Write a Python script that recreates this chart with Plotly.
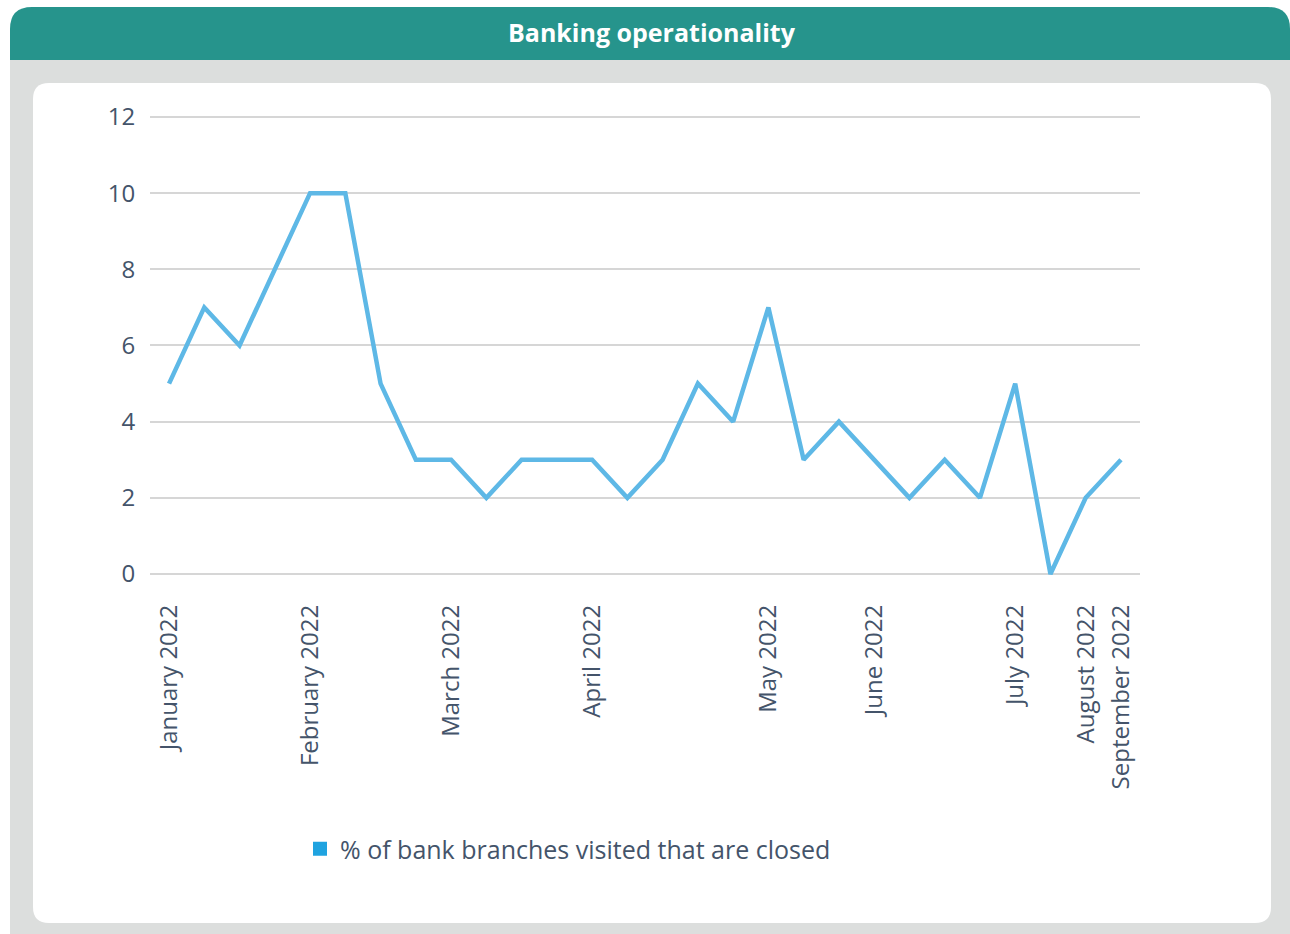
import plotly.graph_objects as go

# ---- data ----
rounds = list(range(28))
closed_pct = [5, 7, 6, 8, 10, 10, 5, 3, 3, 2, 3, 3, 3, 2, 3, 5, 4, 7, 3, 4, 3, 2, 3, 2, 5, 0, 2, 3]
label_rounds = [0, 4, 8, 12, 17, 20, 24, 26, 27]
label_text = ["January 2022", "February 2022", "March 2022", "April 2022", "May 2022",
              "June 2022", "July 2022", "August 2022", "September 2022"]
y_ticks = [0, 2, 4, 6, 8, 10, 12]
series_name = "% of bank branches visited that are closed"
title_text = "Banking operationality"

W, H = 1290, 934
FONT = "Open Sans"
TXT = "#44546a"

def px(x):
    return x / W

def py(y):
    return (H - y) / H

def rrect(x0, y0, x1, y1, r, top_only=False):
    rx, ry = r / W, r / H
    X0, X1 = px(x0), px(x1)
    Y0, Y1 = py(y0), py(y1)
    if top_only:
        return (f"M{X0},{Y1} L{X0},{Y0-ry} Q{X0},{Y0} {X0+rx},{Y0} "
                f"L{X1-rx},{Y0} Q{X1},{Y0} {X1},{Y0-ry} L{X1},{Y1} Z")
    return (f"M{X0+rx},{Y0} L{X1-rx},{Y0} Q{X1},{Y0} {X1},{Y0-ry} "
            f"L{X1},{Y1+ry} Q{X1},{Y1} {X1-rx},{Y1} L{X0+rx},{Y1} Q{X0},{Y1} {X0},{Y1+ry} "
            f"L{X0},{Y0-ry} Q{X0},{Y0} {X0+rx},{Y0} Z")

fig = go.Figure()
fig.add_trace(go.Scatter(
    x=rounds, y=closed_pct, mode="lines",
    line=dict(color="#5eb8e6", width=4.5), showlegend=False, hoverinfo="x+y"))
fig.add_trace(go.Scatter(
    x=[None], y=[None], mode="markers", name=series_name,
    marker=dict(symbol="square", size=14, color="#1fa3e0"), showlegend=True))

shapes = [
    dict(type="rect", xref="paper", yref="paper", x0=px(10), x1=px(1290), y0=py(934), y1=py(60),
         fillcolor="#dcdedd", line=dict(width=0), layer="below"),
    dict(type="path", xref="paper", yref="paper", path=rrect(10, 7, 1290, 60, 22, top_only=True),
         fillcolor="#26948c", line=dict(width=0), layer="below"),
    dict(type="path", xref="paper", yref="paper", path=rrect(33, 83, 1271, 923, 16),
         fillcolor="white", line=dict(width=0), layer="below"),
]

Y0PX, Y12PX = 574, 117
ypad = 0.03

fig.update_layout(
    width=W, height=H, autosize=False,
    margin=dict(l=0, r=0, t=0, b=0, pad=0, autoexpand=False),
    paper_bgcolor="white", plot_bgcolor="rgba(0,0,0,0)",
    font=dict(family=FONT, color=TXT, size=24),
    shapes=shapes,
    annotations=[dict(text=f"<b>{title_text}</b>", x=px(652), y=py(32), xref="paper", yref="paper",
                      showarrow=False, font=dict(family=FONT, size=25, color="white"),
                      xanchor="center", yanchor="middle")],
    xaxis=dict(domain=[px(150), px(1140)], range=[-0.54, 27.54],
               tickmode="array", tickvals=label_rounds, ticktext=label_text,
               tickangle=-90, showgrid=False, zeroline=False, showline=False,
               ticks="outside", ticklen=19, tickcolor="rgba(0,0,0,0)",
               tickfont=dict(size=24, color=TXT)),
    yaxis=dict(domain=[py(Y0PX + ypad * 38.08), py(Y12PX - ypad * 38.08)], range=[-ypad, 12 + ypad],
               tickmode="array", tickvals=y_ticks,
               showgrid=True, gridcolor="#d6d6d6", gridwidth=2,
               zeroline=False, showline=False,
               ticks="outside", ticklen=9, tickcolor="rgba(0,0,0,0)",
               tickfont=dict(size=24, color=TXT)),
    legend=dict(orientation="h", x=px(300), y=py(849), xanchor="left", yanchor="middle",
                bgcolor="rgba(0,0,0,0)", font=dict(size=25, color=TXT),
                itemwidth=30),
    showlegend=True,
)

fig.write_html("out.html", config={"displayModeBar": False},
               post_script="document.body.style.margin='0';document.body.style.overflow='hidden';")
